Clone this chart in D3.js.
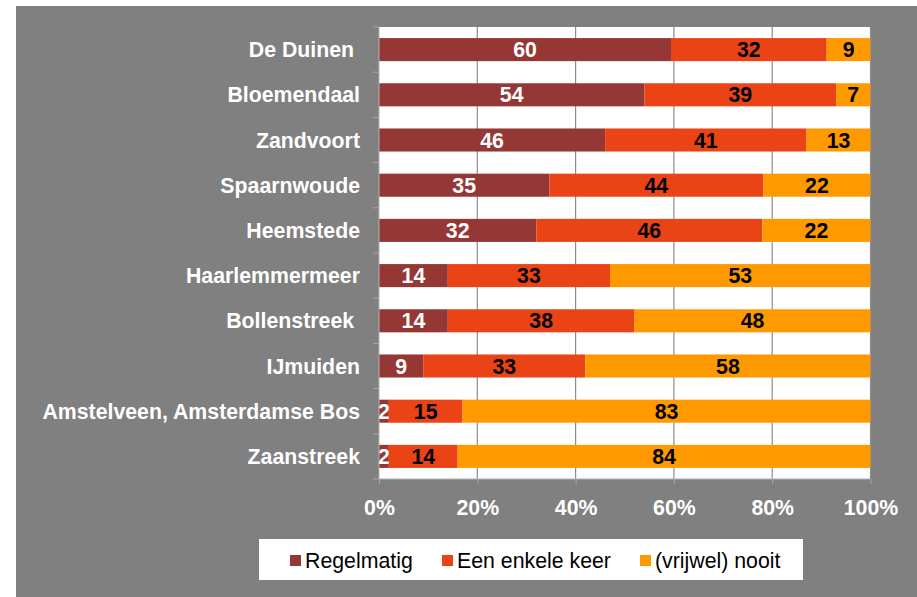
<!DOCTYPE html>
<html>
<head>
<meta charset="utf-8">
<script src="https://cdn.jsdelivr.net/npm/d3@7"></script>
<style>
  body { margin: 0; background: #ffffff; }
  svg { display: block; font-family: "Liberation Sans", Arial, sans-serif; }
</style>
</head>
<body>
<svg id="chart"></svg>
<script>
// categories top to bottom
var categories = ["De Duinen", "Bloemendaal", "Zandvoort", "Spaarnwoude", "Heemstede",
                  "Haarlemmermeer", "Bollenstreek", "IJmuiden", "Amstelveen, Amsterdamse Bos", "Zaanstreek"]
var seriesNames = ["Regelmatig", "Een enkele keer", "(vrijwel) nooit"]
var regelmatig = [60, 54, 46, 35, 32, 14, 14, 9, 2, 2]
var enkeleKeer = [32, 39, 41, 44, 46, 33, 38, 33, 15, 14]
var nooit      = [9, 7, 13, 22, 22, 53, 48, 58, 83, 84]
var tickLabels = ["0%", "20%", "40%", "60%", "80%", "100%"]

var colors = ["#953735", "#EA4316", "#FF9900"]
var labelColors = ["#ffffff", "#000000", "#000000"]

var dimensions = {
    width: 917,
    height: 597,
    margin: { top: 27, bottom: 118, right: 46.5, left: 379 }
}

var svg = d3.select("#chart")
            .attr("width", dimensions.width)
            .attr("height", dimensions.height)

// grey chart background
svg.append("rect")
   .attr("x", 16).attr("y", 6)
   .attr("width", dimensions.width - 16).attr("height", dimensions.height - 6)
   .attr("fill", "#808080")

var table = categories.map((c, i) => ({
    name: c,
    "Regelmatig": regelmatig[i],
    "Een enkele keer": enkeleKeer[i],
    "(vrijwel) nooit": nooit[i]
}))

var stacked = d3.stack()
                .keys(seriesNames)
                .offset(d3.stackOffsetExpand)(table)

var xScale = d3.scaleLinear()
               .domain([0, 1])
               .range([dimensions.margin.left, dimensions.width - dimensions.margin.right])

var yScale = d3.scaleBand()
               .domain(categories)
               .range([dimensions.margin.top, dimensions.height - dimensions.margin.bottom])
               .paddingInner(0.49)
               .paddingOuter(0.245)

// plot area
svg.append("rect")
   .attr("x", xScale(0)).attr("y", dimensions.margin.top)
   .attr("width", xScale(1) - xScale(0))
   .attr("height", dimensions.height - dimensions.margin.bottom - dimensions.margin.top)
   .attr("fill", "#ffffff")

// gridlines
svg.append("g")
   .selectAll("line")
   .data(d3.range(0.2, 1.01, 0.2))
   .join("line")
   .attr("x1", d => xScale(d)).attr("x2", d => xScale(d))
   .attr("y1", dimensions.margin.top)
   .attr("y2", dimensions.height - dimensions.margin.bottom)
   .style("stroke", "#8c8c8c")
   .style("stroke-width", 1.2)

// bars
var layers = svg.append("g")
                .selectAll("g")
                .data(stacked)
                .join("g")
                .attr("fill", (d, i) => colors[i])

layers.selectAll("rect")
      .data(d => d)
      .join("rect")
      .attr("x", d => xScale(d[0]))
      .attr("width", d => xScale(d[1]) - xScale(d[0]))
      .attr("y", d => yScale(d.data.name))
      .attr("height", yScale.bandwidth())

// data labels
layers.each(function(layer, i) {
    d3.select(this).selectAll("text")
      .data(layer)
      .join("text")
      .attr("x", d => (xScale(d[0]) + xScale(d[1])) / 2)
      .attr("y", d => yScale(d.data.name) + yScale.bandwidth() / 2)
      .attr("dy", "0.36em")
      .attr("text-anchor", "middle")
      .style("font-size", "21.3px")
      .style("font-weight", "bold")
      .style("fill", labelColors[i])
      .text(d => d.data[layer.key])
})

// axis lines
svg.append("line")
   .attr("x1", xScale(0)).attr("x2", xScale(0))
   .attr("y1", dimensions.margin.top).attr("y2", dimensions.height - dimensions.margin.bottom)
   .style("stroke", "#b0b0b0")
svg.append("line")
   .attr("x1", xScale(0)).attr("x2", xScale(1))
   .attr("y1", dimensions.height - dimensions.margin.bottom)
   .attr("y2", dimensions.height - dimensions.margin.bottom)
   .style("stroke", "#b0b0b0")

// y tick marks at band boundaries
var step = yScale.step()
svg.append("g")
   .selectAll("line")
   .data(d3.range(categories.length + 1))
   .join("line")
   .attr("x1", xScale(0) - 6).attr("x2", xScale(0))
   .attr("y1", d => dimensions.margin.top + d * step)
   .attr("y2", d => dimensions.margin.top + d * step)
   .style("stroke", "#a6a6a6")

// category labels
svg.append("g")
   .selectAll("text")
   .data(categories)
   .join("text")
   .attr("x", 360)
   .attr("y", d => yScale(d) + yScale.bandwidth() / 2)
   .attr("dy", "0.36em")
   .attr("text-anchor", "end")
   .style("font-size", "21.3px")
   .style("font-weight", "bold")
   .style("fill", "#ffffff")
   .style("white-space", "pre")
   .text(d => (d == "De Duinen" || d == "Bollenstreek") ? d + " " : d)

// x axis
var xAxisgen = d3.axisBottom(xScale)
                 .tickValues(d3.range(0, 1.01, 0.2))
                 .tickFormat((d, i) => tickLabels[i])
                 .tickSize(5)
                 .tickPadding(16)

var xAxis = svg.append("g")
               .attr("transform", `translate(0,${dimensions.height - dimensions.margin.bottom})`)
               .call(xAxisgen)
xAxis.select(".domain").remove()
xAxis.selectAll("line").style("stroke", "#a6a6a6")
xAxis.selectAll("text")
     .style("font-size", "21.3px")
     .style("font-weight", "bold")
     .style("fill", "#ffffff")
     .style("font-family", "'Liberation Sans', Arial, sans-serif")

// legend
var legend = svg.append("g")
legend.append("rect")
      .attr("x", 259).attr("y", 539)
      .attr("width", 544).attr("height", 41)
      .attr("fill", "#ffffff")

var legendX = [290, 442, 640]
var items = legend.selectAll("g")
                  .data(seriesNames)
                  .join("g")
                  .attr("transform", (d, i) => `translate(${legendX[i]},555)`)
items.append("rect")
     .attr("width", 11).attr("height", 11)
     .attr("fill", (d, i) => colors[i])
items.append("text")
     .attr("x", 15)
     .attr("y", 5.5)
     .attr("dy", "0.36em")
     .style("font-size", "21.3px")
     .style("fill", "#000000")
     .text(d => d)
</script>
</body>
</html>
